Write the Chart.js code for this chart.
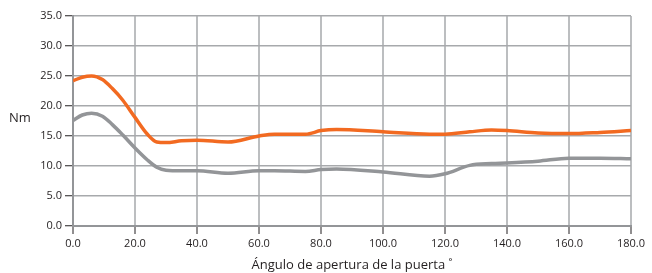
<!DOCTYPE html>
<html><head><meta charset="utf-8">
<script src="https://cdn.jsdelivr.net/npm/chart.js@4"></script>
<style>html,body{margin:0;padding:0;background:#fff}#wrap{width:652px;height:273px;position:relative}</style>
</head><body><div id="wrap"><canvas id="c" width="652" height="273"></canvas></div>
<script>
const angles = [0, 3, 6, 9.5, 12.7, 16, 20, 24, 27, 30, 35, 40, 50, 60, 65, 75, 80, 85, 100, 115, 120, 128, 135, 140, 150, 160, 170, 180];
const orangeSeries = [24.2, 24.8, 25.0, 24.4, 22.9, 21.0, 18.1, 15.3, 14.0, 13.9, 14.2, 14.3, 14.0, 15.0, 15.3, 15.3, 15.9, 16.1, 15.7, 15.3, 15.3, 15.7, 16.0, 15.9, 15.5, 15.4, 15.6, 15.9];
const graySeries  = [17.6, 18.5, 18.8, 18.3, 16.9, 15.2, 13.0, 11.0, 9.8, 9.3, 9.2, 9.2, 8.8, 9.2, 9.2, 9.1, 9.4, 9.5, 9.0, 8.3, 8.7, 10.1, 10.4, 10.5, 10.8, 11.3, 11.3, 11.2];
const yTicks = [0, 5, 10, 15, 20, 25, 30, 35];
const xTicks = [0, 20, 40, 60, 80, 100, 120, 140, 160, 180];

const pts = arr => arr.map((v, i) => ({x: angles[i], y: v}));
const font = {family: "'Open Sans', 'Liberation Sans', sans-serif", size: 11};

const nmLabel = {
  id: 'nmLabel',
  afterDraw(chart) {
    const ctx = chart.ctx;
    ctx.save();
    ctx.fillStyle = '#231f20';
    ctx.font = "13px 'Open Sans', 'Liberation Sans', sans-serif";
    ctx.textAlign = 'left';
    ctx.textBaseline = 'middle';
    ctx.fillText('Nm', 9, 118);
    ctx.restore();
  }
};

new Chart(document.getElementById('c'), {
  type: 'line',
  data: {
    datasets: [
      {data: pts(orangeSeries), borderColor: '#f26a21', borderWidth: 3.5, pointRadius: 0, tension: 0.4, cubicInterpolationMode: 'monotone', fill: false},
      {data: pts(graySeries), borderColor: '#939598', borderWidth: 3.5, pointRadius: 0, tension: 0.4, cubicInterpolationMode: 'monotone', fill: false}
    ]
  },
  options: {
    responsive: false, animation: false,
    layout: {padding: {top: 16, right: 21, left: 0, bottom: 0}},
    plugins: {legend: {display: false}, tooltip: {enabled: false}},
    scales: {
      x: {
        type: 'linear', min: 0, max: 180,
        afterBuildTicks: s => { s.ticks = xTicks.map(v => ({value: v})); },
        afterFit: s => { s.height = 47; },
        ticks: {font: font, color: '#231f20', padding: 3, callback: v => v.toFixed(1), maxRotation: 0},
        grid: {color: '#bcbec0', lineWidth: 2, tickColor: '#231f20', tickLength: 8, tickWidth: 1},
        border: {color: '#939598', width: 2},
        title: {display: true, text: 'Ángulo de apertura de la puerta ˚', color: '#231f20', font: {family: font.family, size: 13}, padding: {top: 4, bottom: 0}}
      },
      y: {
        min: 0, max: 35,
        afterBuildTicks: s => { s.ticks = yTicks.map(v => ({value: v})); },
        afterFit: s => { s.width = 73; },
        ticks: {font: font, color: '#231f20', padding: 3, callback: v => v.toFixed(1)},
        grid: {color: '#a7a9ac', lineWidth: 1.5, tickColor: '#231f20', tickLength: 8, tickWidth: 1},
        border: {color: '#939598', width: 2}
      }
    }
  },
  plugins: [nmLabel]
});
</script></body></html>
